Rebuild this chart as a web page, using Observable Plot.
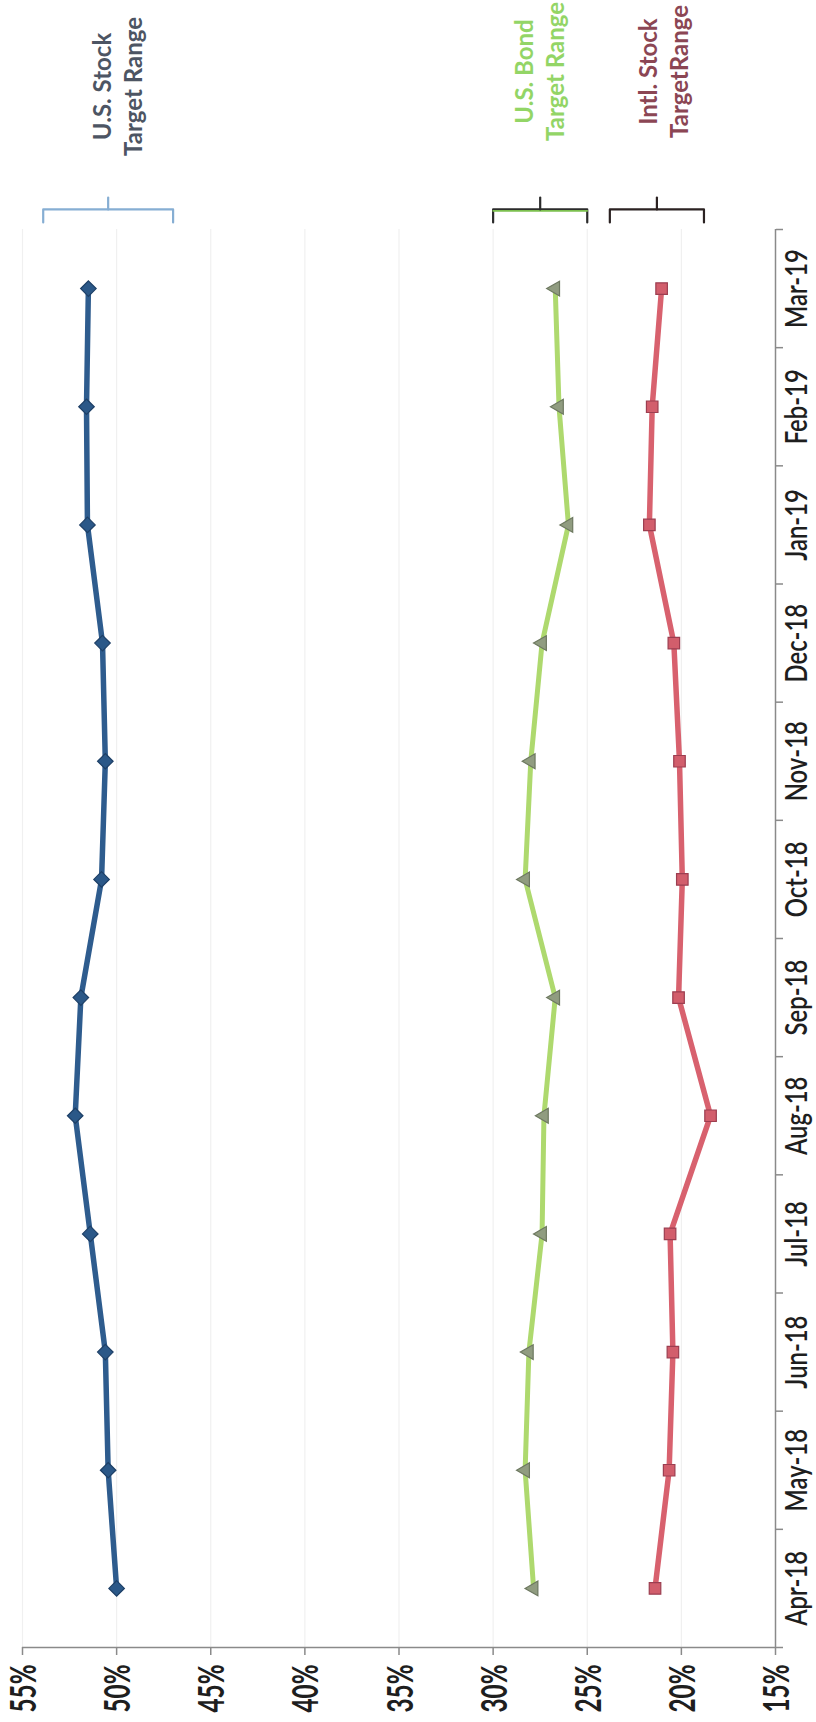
<!DOCTYPE html>
<html>
<head>
<meta charset="utf-8">
<script src="https://cdn.jsdelivr.net/npm/d3@7"></script>
<script src="https://cdn.jsdelivr.net/npm/@observablehq/plot@0.6"></script>
<style>
  html, body { margin: 0; padding: 0; background: #fff; }
  #chart svg { display: block; }
</style>
</head>
<body>
<div id="chart"></div>
<script>
// ---- data ----
const months = ["Apr-18","May-18","Jun-18","Jul-18","Aug-18","Sep-18","Oct-18","Nov-18","Dec-18","Jan-19","Feb-19","Mar-19"];
const usStock   = [50.0, 50.45, 50.6, 51.4, 52.2, 51.9, 50.8, 50.6, 50.75, 51.55, 51.6, 51.5];
const usBond    = [27.85, 28.3, 28.1, 27.4, 27.3, 26.7, 28.3, 28.0, 27.4, 26.0, 26.5, 26.7];
const intlStock = [21.4, 20.65, 20.45, 20.6, 18.45, 20.15, 19.95, 20.1, 20.4, 21.7, 21.55, 21.05];
const percentTicks = [55, 50, 45, 40, 35, 30, 25, 20, 15];
const rangeNames = ["U.S. Stock\nTarget Range", "U.S. Bond\nTarget Range", "Intl. Stock\nTargetRange"];
const rangeLow  = [47, 25, 18.8];
const rangeHigh = [53.9, 30, 23.8];

// ---- styles ----
const seriesStyle = [
  {values: usStock,   stroke: "#2e5c8e", strokeWidth: 5.5, symbol: "diamond2", r: 7,   fill: "#2b5888", mstroke: "#1d3f66", rotate: 0},
  {values: usBond,    stroke: "#aed96e", strokeWidth: 5,   symbol: "triangle", r: 5.5, fill: "#909c80", mstroke: "#6d7860", rotate: -90},
  {values: intlStock, stroke: "#d8616e", strokeWidth: 5.5, symbol: "square",   r: 6.5, fill: "#d25e6c", mstroke: "#9c3e50", rotate: 0}
];
const rangeStyle = [
  {text: "#4d5563", bracket: "#86aed3", inner: null,      dy: -143, dx: 8},
  {text: "#93d566", bracket: "#2b2b2b", inner: "#7cc04f", dy: -158, dx: -2},
  {text: "#8b4654", bracket: "#2b2222", inner: null,      dy: -158, dx: 6}
];

const boundaries = d3.range(-0.5, months.length, 1);   // category edges (Excel-style ticks)
const yTop = boundaries[boundaries.length - 1];
const brOff = 0.17, hookOff = 0.06, tickOff = 0.27;      // bracket offsets above the frame (category units)

const ranges = rangeNames.map((name, i) => ({name, low: rangeLow[i], high: rangeHigh[i], mid: (rangeLow[i] + rangeHigh[i]) / 2}));

const marks = [];
marks.push(Plot.ruleX(percentTicks.filter(d => d !== 15), {stroke: "#f0f0f0", strokeWidth: 1.2}));
marks.push(Plot.ruleY([boundaries[0]], {stroke: "#8a8a8a", strokeWidth: 1.5}));
marks.push(Plot.ruleX([15], {stroke: "#8a8a8a", strokeWidth: 1.5}));
marks.push(Plot.axisX({ticks: percentTicks, tickSize: 8, tickFormat: () => "", stroke: "#8a8a8a", strokeWidth: 1.5, label: null}));
marks.push(Plot.axisY({anchor: "right", ticks: boundaries, tickSize: 7, tickFormat: () => "", stroke: "#8a8a8a", strokeWidth: 1.5, label: null}));

seriesStyle.forEach(s => {
  const rows = s.values.map((v, i) => ({i, v}));
  marks.push(Plot.line(rows, {x: "v", y: "i", stroke: s.stroke, strokeWidth: s.strokeWidth, strokeLinejoin: "round", strokeLinecap: "round"}));
});
seriesStyle.forEach(s => {
  const rows = s.values.map((v, i) => ({i, v}));
  marks.push(Plot.dot(rows, {x: "v", y: "i", symbol: s.symbol, r: s.r, fill: s.fill, stroke: s.mstroke, strokeWidth: 1.2, rotate: s.rotate}));
});

ranges.forEach((r, k) => {
  const st = rangeStyle[k];
  const pts = [
    {x: r.high, y: yTop + hookOff}, {x: r.high, y: yTop + brOff},
    {x: r.low,  y: yTop + brOff},   {x: r.low,  y: yTop + hookOff}
  ];
  const tick = [{x: r.mid, y: yTop + brOff}, {x: r.mid, y: yTop + tickOff}];
  marks.push(Plot.line(pts, {x: "x", y: "y", stroke: st.bracket, strokeWidth: 2.2, strokeLinejoin: "round"}));
  if (st.inner) marks.push(Plot.line(pts.slice(1, 3), {x: "x", y: "y", stroke: st.inner, strokeWidth: 1.6, dy: 1.5}));
  marks.push(Plot.line(tick, {x: "x", y: "y", stroke: st.bracket, strokeWidth: 2.2}));
  marks.push(Plot.text([r], {
    x: "mid", frameAnchor: "top", dy: st.dy, dx: st.dx, rotate: -90,
    text: "name", fill: st.text, fontSize: 24, fontWeight: "bold", fontFamily: "Lato",
    lineHeight: 1.3, textAnchor: "middle", lineAnchor: "middle"
  }));
});

const percentLabels = percentTicks.map(d => `${d}%`);
marks.push(Plot.text(percentTicks, {
  x: d => d, frameAnchor: "bottom", dy: 41, dx: 2, rotate: -90, text: (d, i) => percentLabels[i],
  fontSize: 36, fontWeight: "bold", fill: "#1e1e1e", fontFamily: "Lato",
  textAnchor: "middle", lineAnchor: "middle"
}));
marks.push(Plot.text(months, {
  y: (d, i) => i, frameAnchor: "right", dx: 22, rotate: -90, text: d => d,
  fontSize: 31, fontWeight: 600, fill: "#1e1e1e", fontFamily: "Lato",
  textAnchor: "middle", lineAnchor: "middle"
}));

const chart = Plot.plot({
  width: 816,
  height: 1722,
  marginLeft: 22,
  marginRight: 41,
  marginTop: 229,
  marginBottom: 75,
  style: {background: "#fff", fontFamily: "Lato"},
  x: {domain: [55, 15], label: null},
  y: {domain: [boundaries[0], yTop], label: null},
  marks
});
document.getElementById("chart").appendChild(chart);

// The reference's axis labels are squeezed along their reading direction (stretched chart image).
// Squeeze them to the lengths seen in the reference and keep them centred.
function squeezeTo(labels, sampleLabel, sampleLength) {
  const set = new Set(labels);
  const texts = Array.from(chart.querySelectorAll("text")).filter(t => set.has(t.textContent));
  const sample = texts.find(t => t.textContent === sampleLabel);
  if (!sample) return;
  const f = sampleLength / sample.getComputedTextLength();
  texts.forEach(t => {
    const w = t.getComputedTextLength() * f;
    t.setAttribute("textLength", w.toFixed(1));
    t.setAttribute("lengthAdjust", "spacingAndGlyphs");
    t.setAttribute("text-anchor", "start");
    t.setAttribute("x", (-w / 2).toFixed(1));
  });
}
squeezeTo(months, "Mar-19", 79);
squeezeTo(percentLabels, "55%", 48);
</script>
</body>
</html>
